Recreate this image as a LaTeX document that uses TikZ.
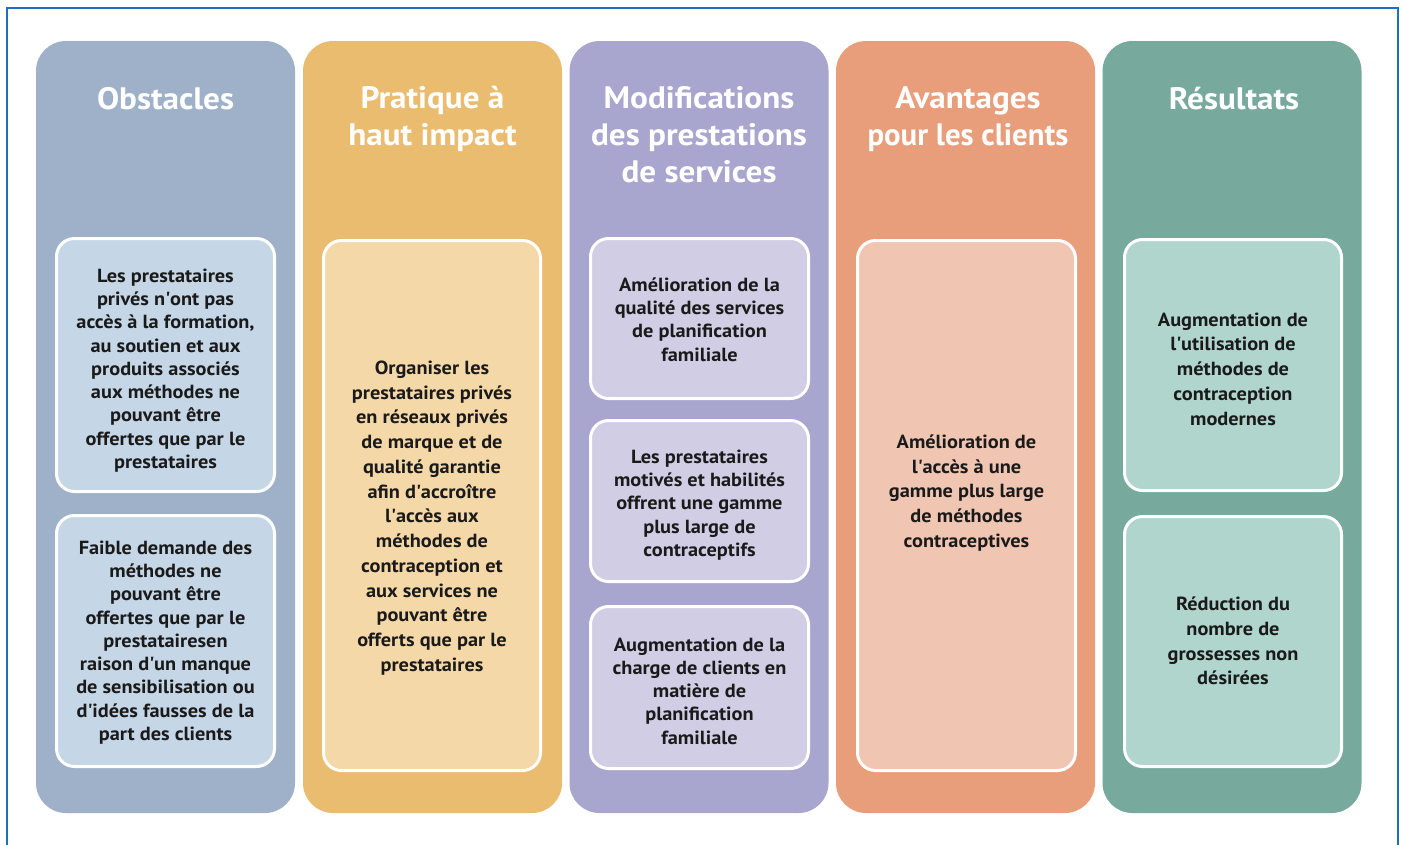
\documentclass[tikz,border=0pt]{standalone}
\usepackage{fontspec}
\setmainfont{PT Sans}[FakeStretch=1.07]
\newcommand{\ap}{\textquotesingle}
\definecolor{frameblue}{HTML}{1E6FBF}
\definecolor{cAdark}{HTML}{9EB1C9}\definecolor{cAlight}{HTML}{C5D6E6}
\definecolor{cBdark}{HTML}{EABC70}\definecolor{cBlight}{HTML}{F4D8A8}
\definecolor{cCdark}{HTML}{A8A5CE}\definecolor{cClight}{HTML}{D0CDE5}
\definecolor{cDdark}{HTML}{E89E7A}\definecolor{cDlight}{HTML}{F0C6B3}
\definecolor{cEdark}{HTML}{77AA9C}\definecolor{cElight}{HTML}{B0D5CC}
\definecolor{txt}{HTML}{1A1A1A}
\begin{document}
\begin{tikzpicture}[x=1pt,y=-1pt,
  colbox/.style={rectangle,rounded corners=30pt,inner sep=0pt,outer sep=0pt,minimum width=259pt,minimum height=772pt},
  innerbox/.style={rectangle,rounded corners=18pt,draw=white,line width=3pt,inner sep=0pt,outer sep=0pt},
  title/.style={text=white,font=\fontsize{31}{37}\selectfont\bfseries,align=center,inner sep=0pt},
  body/.style={text=txt,font=\fontsize{19}{23.3}\selectfont\bfseries,align=center,inner sep=0pt},
  bodyw/.style={text=txt,font=\fontsize{19}{24.75}\selectfont\bfseries,align=center,inner sep=0pt}]
\useasboundingbox (0,0) rectangle (1404,844);
\fill[white] (0,0) rectangle (1404,844);
\draw[frameblue,line width=2pt] (7,850) -- (7,8) -- (1398,8) -- (1398,850);
% columns
\node (colA) [colbox,fill=cAdark] at (165.5,427) {};
\node (colB) [colbox,fill=cBdark] at (432.5,427) {};
\node (colC) [colbox,fill=cCdark] at (699,427) {};
\node (colD) [colbox,fill=cDdark] at (965.5,427) {};
\node (colE) [colbox,fill=cEdark] at (1232,427) {};
% titles
\node (tA) [title] at (165.5,99) {Obstacles};
\node (tB) [title] at (432.5,118.5) {Pratique à\\haut impact};
\node (tC) [title] at (699,135) {Modifications\\des prestations\\de services};
\node (tD) [title] at (968,119.5) {Avantages\\\scalebox{0.93}[1]{pour les clients}};
\node (tE) [title] at (1234,99) {Résultats};
% inner boxes
\node (bA1) [innerbox,fill=cAlight,minimum width=218pt,minimum height=253pt] at (165.5,365) {};
\node (bA2) [innerbox,fill=cAlight,minimum width=218pt,minimum height=251pt] at (165.5,641) {};
\node (bB) [innerbox,fill=cBlight,minimum width=217pt,minimum height=530pt] at (432,505.5) {};
\node (bC1) [innerbox,fill=cClight,minimum width=218pt,minimum height=160pt] at (699.5,318.5) {};
\node (bC2) [innerbox,fill=cClight,minimum width=218pt,minimum height=161pt] at (699.5,501) {};
\node (bC3) [innerbox,fill=cClight,minimum width=218pt,minimum height=162pt] at (699.5,687.5) {};
\node (bD) [innerbox,fill=cDlight,minimum width=218pt,minimum height=530pt] at (966.5,505.5) {};
\node (bE1) [innerbox,fill=cElight,minimum width=217pt,minimum height=251pt] at (1233,365) {};
\node (bE2) [innerbox,fill=cElight,minimum width=217pt,minimum height=250pt] at (1233,641.5) {};
% texts
\node (xA1) [body] at (165.5,370.5) {Les prestataires\\privés n\ap ont pas\\accès à la formation,\\au soutien et aux\\produits associés\\aux méthodes ne\\pouvant être\\offertes que par le\\prestataires};
\node (xA2) [body] at (165.5,642.5) {Faible demande des\\méthodes ne\\pouvant être\\offertes que par le\\prestatairesen\\raison d\ap un manque\\de sensibilisation ou\\d\ap idées fausses de la\\part des clients};
\node (xB) [bodyw] at (432,518) {Organiser les\\prestataires privés\\en réseaux privés\\de marque et de\\qualité garantie\\afin d\ap accroître\\l\ap accès aux\\méthodes de\\contraception et\\aux services ne\\pouvant être\\offerts que par le\\prestataires};
\node (xC1) [body] at (699.5,319.5) {Amélioration de la\\qualité des services\\de planification\\familiale};
\node (xC2) [body] at (699.5,505) {Les prestataires\\motivés et habilités\\offrent une gamme\\plus large de\\contraceptifs};
\node (xC3) [body] at (699.5,691) {Augmentation de la\\charge de clients en\\matière de\\planification\\familiale};
\node (xD) [bodyw] at (966.5,493) {Amélioration de\\l\ap accès à une\\gamme plus large\\de méthodes\\contraceptives};
\node (xE1) [bodyw] at (1233,369) {Augmentation de\\l\ap utilisation de\\méthodes de\\contraception\\modernes};
\node (xE2) [bodyw] at (1233,641) {Réduction du\\nombre de\\grossesses non\\désirées};
\end{tikzpicture}
\end{document}
